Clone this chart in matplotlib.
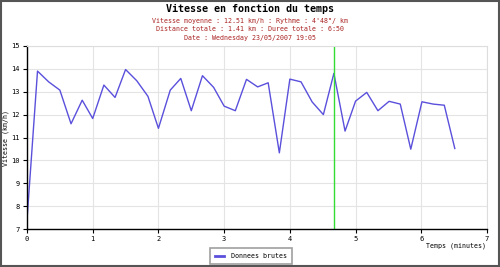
import numpy as np
import matplotlib.pyplot as plt
from matplotlib.patches import Rectangle

# temps (minutes) et vitesse (km/h)
temps = [0.0, 0.16, 0.33, 0.5, 0.67, 0.84, 1.0, 1.17, 1.34, 1.5, 1.67, 1.84,
         2.0, 2.18, 2.34, 2.5, 2.67, 2.84, 3.0, 3.17, 3.34, 3.51, 3.67, 3.84,
         4.0, 4.17, 4.34, 4.51, 4.67, 4.84, 5.0, 5.17, 5.34, 5.51, 5.68, 5.84,
         6.01, 6.18, 6.35, 6.51]
vitesse = [7.4, 13.9, 13.43, 13.07, 11.6, 12.63, 11.83, 13.29, 12.75, 13.97, 13.48, 12.8,
           11.4, 13.07, 13.58, 12.17, 13.7, 13.19, 12.37, 12.17, 13.54, 13.21, 13.39, 10.33,
           13.55, 13.43, 12.55, 12.0, 13.8, 11.28, 12.59, 12.97, 12.17, 12.58, 12.46, 10.49,
           12.56, 12.46, 12.41, 10.52]
t_max = 4.67

titre = "Vitesse en fonction du temps"
infos = ["Vitesse moyenne : 12.51 km/h : Rythme : 4'48\"/ km",
         "Distance totale : 1.41 km : Duree totale : 6:50",
         "Date : Wednesday 23/05/2007 19:05"]

mono = 'DejaVu Sans Mono'
plt.rcParams['font.family'] = mono

fig = plt.figure(figsize=(5, 2.67), dpi=100)
fig.patch.set_facecolor('white')
fig.patches.append(Rectangle((0.001, 0.002), 0.997, 0.995, transform=fig.transFigure,
                             fill=False, edgecolor='#555555', linewidth=1.5))

ax = fig.add_axes([0.054, 0.142, 0.92, 0.686])
ax.plot(temps, vitesse, color='#5a50dc', linewidth=1, label='Donnees brutes')
ax.axvline(t_max, color='#33dd33', linewidth=1)

ax.set_xlim(0, 7)
ax.set_ylim(7, 15)
ax.set_xticks(range(0, 8))
ax.set_yticks(range(7, 16))
ax.grid(True, color='#e4e4e4', linewidth=0.8)
ax.set_axisbelow(True)
ax.tick_params(labelsize=5, length=3, width=0.8, pad=2)
for s in ['top', 'right']:
    ax.spines[s].set_color('#dddddd')
for s in ['left', 'bottom']:
    ax.spines[s].set_linewidth(1)

ax.set_ylabel('Vitesse (km/h)', fontsize=4.8, labelpad=2)
fig.text(0.972, 0.08, 'Temps (minutes)', fontsize=4.8, ha='right', va='center')

fig.text(0.5, 0.968, titre, fontsize=7.2, fontweight='bold', ha='center', va='center')
for i, l in enumerate(infos):
    fig.text(0.5, 0.922 - i * 0.0315, l, fontsize=4.8, color='#aa2222', ha='center', va='center')

leg = fig.legend(loc='center', bbox_to_anchor=(0.502, 0.041), fontsize=4.8, frameon=True,
                 fancybox=False, edgecolor='#888888', handlelength=1.4, borderpad=0.8,
                 handletextpad=1.0, borderaxespad=0)
leg.get_frame().set_linewidth(1.2)
for h in leg.get_lines():
    h.set_linewidth(2)

fig.savefig('out.png', dpi=100)
